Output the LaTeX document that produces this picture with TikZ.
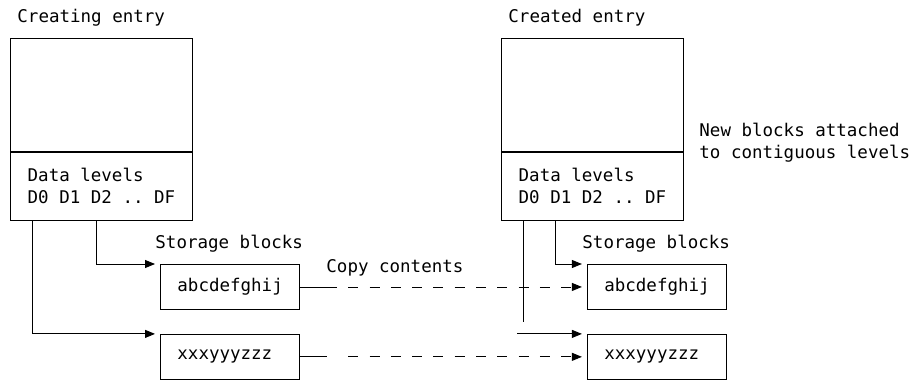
\documentclass[tikz,border=0pt]{standalone}
\usepackage{fontspec}
\setmonofont{DejaVu Sans Mono}
\usetikzlibrary{arrows.meta,positioning}
\begin{document}
\begin{tikzpicture}[x=1pt, y=-1pt, line width=0.9pt,
    every node/.style={font=\ttfamily\fontsize{17.5}{22}\selectfont},
    entry/.style={draw, minimum width=182pt, minimum height=113pt, anchor=north west},
    levels/.style={draw, minimum width=182pt, minimum height=68pt, align=left},
    blk/.style={draw, minimum width=139pt, minimum height=45pt, inner xsep=17pt, text width=105pt, align=left},
    lbl/.style={anchor=base west, inner sep=0pt},
    link/.style={-{Triangle[length=10pt,width=8pt]}, shorten >=5pt},
    copy/.style={link, dash pattern=on 10pt off 11.3pt, dash phase=10pt}]
  \useasboundingbox (0,0) rectangle (922,380);
  % creating entry
  \node[lbl] (srct) at (17,22) {Creating entry};
  \node[entry] (src) at (10,38) {};
  \node[levels, below=0pt of src] (srclv) {Data levels\\D0 D1 D2 .. DF};
  % created entry
  \node[lbl] (dstt) at (508,22) {Created entry};
  \node[entry] (dst) at (501,38) {};
  \node[levels, below=0pt of dst] (dstlv) {Data levels\\D0 D1 D2 .. DF};
  \node[lbl, align=left] (note) at (699,158) {New blocks attached\\to contiguous levels};
  % storage blocks
  \node[lbl] (sb1) at (155,248) {Storage blocks};
  \node[lbl] (sb2) at (582,248) {Storage blocks};
  \node[blk, anchor=north west] (a1) at (160,264) {abcdefghij};
  \node[blk, below=24pt of a1] (a2) {xxxyyyzzz};
  \node[blk, right=287pt of a1] (b1) {abcdefghij};
  \node[blk, right=287pt of a2] (b2) {xxxyyyzzz};
  \node[lbl] (cpy) at (326,272) {Copy contents};
  % level pointers
  \draw[link] ([xshift=22pt]srclv.south west) |- (a2.north west);
  \draw[link] ([xshift=86pt]srclv.south west) |- (a1.north west);
  \draw ([xshift=22pt]dstlv.south west) -- ++(0,101) coordinate (v1);
  \draw[link] ([xshift=-6pt]v1 |- b2.north west) -- (b2.north west);
  \draw[link] ([xshift=54pt]dstlv.south west) |- (b1.north west);
  % copy
  \draw (a1.east) -- ++(37,0) coordinate (k1);
  \draw[copy] (k1) -- (b1.west);
  \draw (a2.east) -- ++(27,0);
  \draw[copy] ([xshift=37pt]a2.east) -- (b2.west);
\end{tikzpicture}
\end{document}
